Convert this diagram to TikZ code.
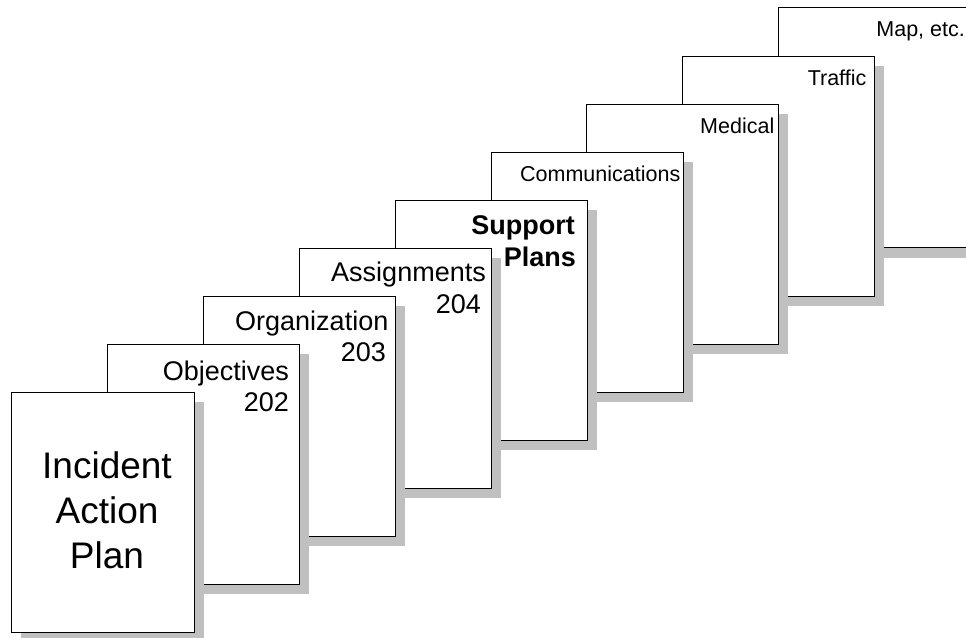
\documentclass[tikz,border=0pt]{standalone}
\usepackage{fontspec}
\setmainfont{Liberation Sans}
\usetikzlibrary{shadows}
\definecolor{shadowgray}{RGB}{192,192,192}
\begin{document}
\begin{tikzpicture}[x=1pt,y=-1pt,
  page/.style={draw=black, line width=1pt, fill=white, anchor=north west,
    minimum width=192pt, minimum height=240pt, inner sep=0pt, outer sep=0pt,
    drop shadow={shadow xshift=9.5pt, shadow yshift=-10pt, fill=shadowgray, opacity=1}},
  bigtext/.style={anchor=base east, inner sep=0pt, font=\fontsize{27}{31}\selectfont},
  boldtext/.style={anchor=base east, inner sep=0pt, font=\fontsize{27}{31}\selectfont\bfseries},
  smalltext/.style={anchor=base east, inner sep=0pt, font=\fontsize{21.5}{26}\selectfont},
  hugetext/.style={anchor=base, inner sep=0pt, font=\fontsize{37}{45}\selectfont}]
\useasboundingbox (0,0) rectangle (966,637);
\clip (0,0) rectangle (966,637);

% page 8: Map, etc.
\node[page] (p8) at (778.7,7.5) {};
\node[smalltext] (t8) at (965,36) {Map, etc.};
% page 7: Traffic
\node[page] (p7) at (682.8,56) {};
\node[smalltext] (t7) at (866.5,85) {Traffic};
% page 6: Medical
\node[page] (p6) at (586.9,104) {};
\node[smalltext] (t6) at (774.5,133) {Medical};
% page 5: Communications
\node[page] (p5) at (491,152) {};
\node[smalltext] (t5) at (680.5,181.7) {Communications};
% page 4: Support Plans
\node[page] (p4) at (395.3,200) {};
\node[boldtext] (t4a) at (575,234) {Support};
\node[boldtext] (t4b) at (576,266) {Plans};
% page 3: Assignments
\node[page] (p3) at (299.2,248) {};
\node[bigtext] (t3a) at (486,281.7) {Assignments};
\node[bigtext] (t3b) at (481,313.7) {204};
% page 2: Organization
\node[page] (p2) at (203.3,296) {};
\node[bigtext] (t2a) at (388.5,330.7) {Organization};
\node[bigtext] (t2b) at (386,361.7) {203};
% page 1: Objectives
\node[page] (p1) at (107.4,344) {};
\node[bigtext] (t1a) at (289,380) {Objectives};
\node[bigtext] (t1b) at (289,411.7) {202};
% page 0: Incident Action Plan
\node[page, minimum width=182.5pt] (p0) at (11.7,392) {};
\node[hugetext] (t0a) at (107,478) {Incident};
\node[hugetext] (t0b) at (107,523) {Action};
\node[hugetext] (t0c) at (107,568) {Plan};
\end{tikzpicture}
\end{document}
